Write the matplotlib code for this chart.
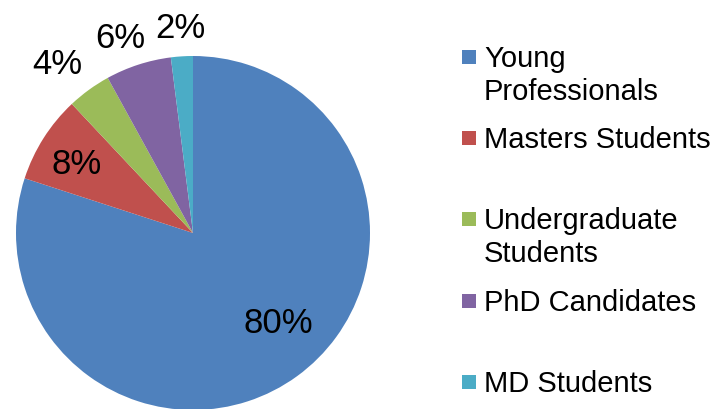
import matplotlib
matplotlib.use("Agg")
import matplotlib.pyplot as plt
import numpy as np
from matplotlib.patches import Rectangle

categories = ["Young\nProfessionals", "Masters Students", "Undergraduate\nStudents",
              "PhD Candidates", "MD Students"]
values = [80, 8, 4, 6, 2]
pct_labels = ["80%", "8%", "4%", "6%", "2%"]
colors = ["#4F81BD", "#C0504D", "#9BBB59", "#8064A2", "#4BACC6"]

W, H = 715, 409
cx, cy, R = 193, 233, 177  # pie centre / radius in pixels

plt.rcParams['font.family'] = ['Liberation Sans', 'DejaVu Sans']
fig = plt.figure(figsize=(W / 100, H / 100), dpi=100)
ax = fig.add_axes([0, 0, 1, 1])
wedges, _ = ax.pie(values, colors=colors, startangle=90, counterclock=False,
                   radius=1, wedgeprops=dict(linewidth=0))
ax.set_aspect('auto')
ax.set_xlim(-cx / R, (W - cx) / R)
ax.set_ylim((cy - H) / R, cy / R)
ax.axis('off')

# label placement: distance from centre and angular tweak (deg)
dists = [0.70, 0.76, 1.225, 1.176, 1.155]
tweak = [7.4, 2.0, 2.8, 2.5, 0.0]
for w, lab, d, t in zip(wedges, pct_labels, dists, tweak):
    mid = np.deg2rad((w.theta1 + w.theta2) / 2 + t)
    ax.text(d * np.cos(mid), d * np.sin(mid), lab, ha='center', va='center',
            fontsize=25, color='black')

# legend drawn manually (Excel-style uniform slots)
slot0, slot = 67, 81.2   # baseline of first line of first entry, slot height (px)
line_gap = 33
sq = 14
x_sq, x_txt = 462, 484
for i, (lab, col) in enumerate(zip(categories, colors)):
    base = slot0 + slot * i
    fig.patches.append(Rectangle((x_sq / W, 1 - (base - 3) / H), sq / W, sq / H,
                                 transform=fig.transFigure, facecolor=col,
                                 edgecolor='none'))
    for j, line in enumerate(lab.split("\n")):
        fig.text(x_txt / W, 1 - (base + j * line_gap) / H, line, ha='left',
                 va='baseline', fontsize=21, color='black')

fig.savefig("out.png", dpi=100)
